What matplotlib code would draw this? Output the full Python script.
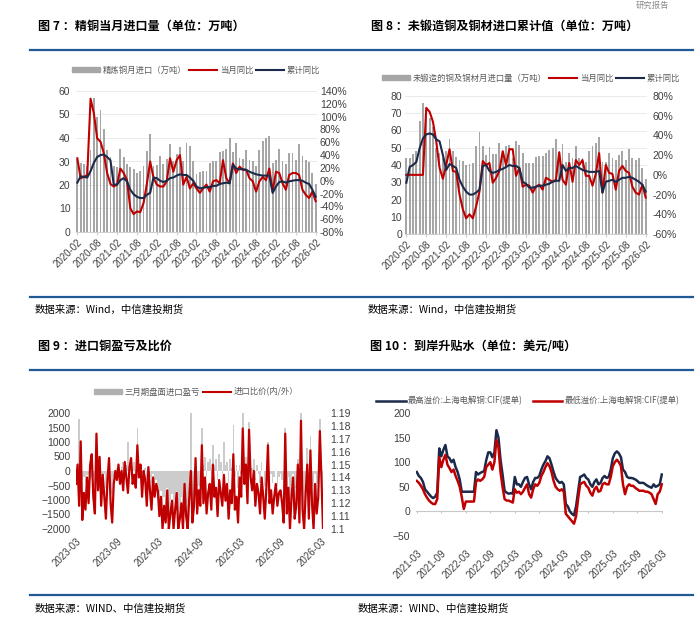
import matplotlib
matplotlib.use('Agg')
import matplotlib.pyplot as plt
from matplotlib.lines import Line2D
from matplotlib.patches import Patch
from matplotlib.ticker import FuncFormatter
import numpy as np

plt.rcParams['font.family'] = ['Liberation Sans', 'Noto Sans CJK SC']
CJK = ['Noto Sans CJK SC', 'DejaVu Sans']

RED = '#c00000'
NAVY = '#1b2a4a'
GRAY = '#a6a6a6'
BLUE = '#1f5a94'
TICK = '#404040'

# ---- 图7 data (monthly, 2020-02 .. 2026-02)
ticks7 = ['2020-02', '2020-08', '2021-02', '2021-08', '2022-02', '2022-08', '2023-02',
          '2023-08', '2024-02', '2024-08', '2025-02', '2025-08', '2026-02']
refined_imp = [31, 29.5, 28.8, 28, 35, 57, 49, 52, 44, 35, 32, 28, 27.5, 35.5, 32, 29, 27.5, 27,
               25, 26, 28, 34.5, 41.7, 28, 28.5, 32.3, 29, 31, 37.5, 30, 33, 36.3, 30, 38, 36.5,
               30, 24.5, 25.5, 26, 26, 29.5, 30, 30.2, 34, 34.5, 35.3, 40, 34, 38, 31.5, 31, 34.8,
               30.8, 30, 28, 34.9, 38.7, 40, 40.8, 29.5, 30.5, 35.3, 30, 29, 33.8, 33.5, 30.7,
               37.3, 32.3, 30.6, 29.9, 25, 20.3]
refined_yoy = [35, 4, 6, 9, 128, 105, 66, 61, 43, 12, -5, -9, -6, 19, 12, 1, -43, -52, -48, -49,
               -35, -5, 30, 5, -6, -9, -9, -1, 35, 14, 32, 40, -6, 6, -12, -4, -12, -19, -12, -6,
               -17, -1, 1, -4, 32, 4, -4, 27, 12, 22, 17, 17, 4, -1, -17, -1, 6, 1, 19, -17, 14,
               12, -4, -14, 9, 12, 12, 9, -14, -22, -27, -17, -32]
refined_cum = [-3, 7, 6, 5, 15, 28, 37, 40, 41, 37, 32, -6, -6, 1, 4, -1, -14, -21, -25, -27,
               -27, -22, -19, 5, 4, 0, -2, 0, 4, 5, 8, 10, 9, 9, 5, 0, -9, -12, -11, -10, -10,
               -8, -8, -5, -4, -3, -4, 25, 19, 18, 18, 17, 14, 12, 10, 9, 8, 8, 8, -19, -9, -2,
               -1, -3, -1, 0, 1, 1, 0, -3, -5, -14, -25]

# ---- 图8 data (monthly, 2020-02 .. 2026-02)
unwrought_imp = [44, 44, 46.5, 48, 65.7, 76, 72, 67, 62, 50, 47, 44, 48, 55.3, 48, 44.5, 43, 42.5,
                 40, 40.5, 41, 51, 59, 51, 46, 50.5, 46.5, 46.5, 52.5, 45, 51, 51.5, 44, 54, 51.5,
                 47, 41, 41, 41, 44.5, 45, 45, 47, 48.5, 50, 55, 46, 52, 42, 47, 44, 51, 44, 44,
                 42, 48, 51, 53, 56, 42, 42, 47, 44, 43, 46, 48, 43, 49, 44, 43, 44, 38, 32]
unwrought_yoy = [0, 0, 0, 0, 0, 0, 68, 64, 54, 34, 7, -4, 10, 26, 4, 3, -20, -35, -44, -40, -44,
                 -32, -17, 14, 10, 12, -8, -3, 4, 24, 10, 26, 26, -1, 7, -12, -10, -11, -18, -12,
                 -10, -15, -3, -5, -7, -5, 23, -5, -10, 12, -7, 15, 10, 15, -1, -1, -11, 1, 22,
                 -18, 10, 2, 1, -15, 4, 9, 4, 2, -12, -18, -20, -10, -23]
unwrought_cum = [-8, 8, 10, 13, 27, 37, 41, 42, 41, 36, 34, 20, 5, 11, 9, 7, -5, -12, -17, -20,
                 -20, -18, -15, 9, 10, 4, 2, 3, 5, 6, 8, 10, 9, 9, 7, -7, -9, -13, -13, -12, -11,
                 -11, -10, -9, -7, -6, -6, 10, 4, 7, 7, 9, 7, 5, 4, 3, 3, 3, 4, -18, -7, -6, -5,
                 -7, -5, -3, -3, -2, -3, -5, -7, -10, -17]

# ---- 图9 data (weekly, 2023-03 .. 2026-03)
ticks9 = ['2023-03', '2023-09', '2024-03', '2024-09', '2025-03', '2025-09', '2026-03']
profit9 = [-350, -500, 1800, -700, -300, -200, -400, -150, -100, -300, -250, -200, -500, 300, -250,
           -150, -400, -200, -100, -600, -200, -150, -300, -800, -200, -100,
           100, 200, -100, 150, 300, -50, 200, 1000, 250, 100, 150, 300, -100, 1500, 200, 100,
           -200, 50, 100, -300, 0, -200, -400, -100, -500, -300,
           -600, -1000, -700, -1500, -900, -1200, -600, -1700, -1000, -800, -1500, -1000, -700,
           -1800, -1300, -900, -1600, -500, -1100, -1700, -800, 2000, -1200, -900, -500, -1000,
           -500, -300, 1500, 200, 500, -200, 300, 400, -100, 900, 200, 400, -300, 600, 300, -100,
           1000, 200, 300, -400, 400, 100, 1600, -200, 200, -600,
           200, -100, 2000, 100, 500, -300, 1700, 300, 100, 400, -300, 200, -100, -400, 300, 0,
           -500, 100, 1000, -300, -100, -400, -200, 0, -500, -200,
           -100, -300, -800, 1500, -600, -200, -1000, -500, -100, -900, -600, 400, -1000, 2000,
           -700, -1300, -400, 800, -900, 1200, -500, -1200, -100, -800, -400, 1800, -200, -1500]
ratio9 = [1.135, 1.150, 1.118, 1.168, 1.107, 1.128, 1.115, 1.140, 1.120, 1.150, 1.158, 1.125, 1.112,
          1.174, 1.130, 1.156, 1.118, 1.142, 1.125, 1.108, 1.138, 1.155, 1.120, 1.105, 1.135, 1.145,
          1.138, 1.150, 1.135, 1.145, 1.130, 1.152, 1.140, 1.128, 1.148, 1.155, 1.135, 1.142, 1.132,
          1.165, 1.140, 1.150, 1.125, 1.145, 1.138, 1.118, 1.148, 1.130, 1.115, 1.140, 1.125, 1.135,
          1.130, 1.110, 1.125, 1.100, 1.118, 1.105, 1.130, 1.100, 1.112, 1.122, 1.100, 1.115, 1.128,
          1.100, 1.108, 1.120, 1.100, 1.135, 1.110, 1.100, 1.125, 1.145, 1.105, 1.118, 1.155, 1.112,
          1.130, 1.118, 1.165, 1.120, 1.140, 1.112, 1.128, 1.135, 1.115, 1.150, 1.125, 1.132, 1.110,
          1.138, 1.128, 1.118, 1.142, 1.122, 1.135, 1.108, 1.130, 1.120, 1.158, 1.115, 1.125, 1.105,
          1.140, 1.125, 1.178, 1.135, 1.150, 1.120, 1.177, 1.140, 1.130, 1.145, 1.118, 1.135, 1.128,
          1.112, 1.140, 1.125, 1.108, 1.132, 1.165, 1.120, 1.130, 1.112, 1.125, 1.135, 1.118, 1.128,
          1.130, 1.120, 1.105, 1.174, 1.112, 1.132, 1.100, 1.125, 1.140, 1.108, 1.118, 1.150, 1.105,
          1.184, 1.115, 1.100, 1.128, 1.150, 1.108, 1.161, 1.120, 1.100, 1.135, 1.112, 1.125, 1.176,
          1.140, 1.100]

# ---- 图10 data (half-monthly, 2021-03 .. 2026-03)
ticks10 = ['2021-03', '2021-09', '2022-03', '2022-09', '2023-03', '2023-09', '2024-03',
           '2024-09', '2025-03', '2025-09', '2026-03']
prem_high = [80, 72, 68, 60, 45, 40, 35, 30, 27, 30, 38, 128, 112, 125, 135, 112, 108, 100, 105, 90,
             80, 65, 40, 40, 40, 40, 40, 40, 40, 80, 75, 78, 80, 82, 104, 120, 120, 110, 120, 165,
             150, 105, 75, 42, 38, 36, 37, 36, 70, 55, 55, 50, 60, 68, 70, 55, 45, 60, 68, 68,
             72, 85, 95, 102, 112, 108, 95, 80, 68, 62, 58, 60, 55, 15, 10, 0, -5, -8, 10, 40,
             70, 72, 75, 68, 65, 55, 50, 60, 65, 55, 58, 68, 72, 68, 70, 85, 108, 118, 122, 118,
             110, 85, 80, 70, 68, 68, 67, 65, 62, 58, 58, 58, 55, 52, 50, 48, 55, 50, 52, 55, 75]
prem_low = [62, 58, 52, 45, 35, 28, 22, 18, 15, 15, 25, 110, 90, 105, 115, 95, 88, 80, 85, 72,
            62, 50, 30, 5, 20, 20, 20, 20, 20, 60, 65, 62, 65, 70, 90, 95, 100, 85, 100, 145,
            130, 80, 50, 25, 22, 22, 20, 18, 45, 38, 40, 35, 40, 48, 55, 35, 28, 45, 55, 52,
            58, 72, 80, 90, 98, 92, 80, 62, 50, 45, 42, 45, 40, -5, -10, -15, -20, -25, -10, 25,
            55, 58, 60, 52, 48, 38, 32, 45, 50, 40, 42, 55, 58, 55, 55, 70, 92, 100, 105, 100,
            92, 55, 35, 50, 55, 52, 52, 48, 45, 42, 42, 42, 40, 40, 38, 35, 25, 15, 35, 40, 55]

W, H = 700, 628
fig = plt.figure(figsize=(W / 100, H / 100), dpi=100)


def fx(x):
    return x / W


def fy(y):
    return 1 - y / H


def axes_px(x0, y0, x1, y1):
    return fig.add_axes([x0 / W, 1 - y1 / H, (x1 - x0) / W, (y1 - y0) / H])


def clean(ax):
    for s in ax.spines.values():
        s.set_visible(False)


# frame lines, titles and sources
for yy in (50, 297, 370, 595):
    fig.add_artist(Line2D([fx(30), fx(693)], [fy(yy), fy(yy)], color=BLUE, lw=1.6))

titles = [(38, 26, '图 7 ：精铜当月进口量（单位：万吨）'),
          (371, 26, '图 8 ：未锻造铜及铜材进口累计值（单位：万吨）'),
          (38, 346, '图 9 ：进口铜盈亏及比价'),
          (370, 346, '图 10 ：到岸升贴水（单位：美元/吨）')]
for x, y, t in titles:
    fig.text(fx(x), fy(y), t, fontsize=8.7, fontweight='bold', family=CJK, va='center')

sources = [(35, 310, '数据来源：Wind，中信建投期货'), (368, 310, '数据来源：Wind，中信建投期货'),
           (35, 609, '数据来源：WIND、中信建投期货'), (358, 609, '数据来源：WIND、中信建投期货')]
for x, y, t in sources:
    fig.text(fx(x), fy(y), t, fontsize=7.5, style='italic', family=CJK, va='center')

fig.text(fx(652), fy(5), '研究报告', fontsize=6, color='#8c8c8c', family=CJK, ha='center', va='center')

pct = FuncFormatter(lambda v, p: f'{v:.0f}%')

# ---------------- 图7
ax1 = axes_px(76, 91, 317, 232)
x7 = np.arange(len(refined_imp))
ax1.bar(x7, refined_imp, width=0.55, color=GRAY, zorder=2)
ax1.set_ylim(0, 60)
ax1.set_yticks(range(0, 61, 10))
ax1.set_xlim(-0.4, len(x7) - 0.6)
ax1.set_xticks(range(0, len(x7), 6))
ax1.set_xticklabels(ticks7, rotation=45, ha='right', rotation_mode='anchor')
ax1.grid(axis='y', color='#e6e6e6', lw=0.6)
ax1.set_axisbelow(True)
clean(ax1)
ax1.spines['bottom'].set_visible(True)
ax1.spines['bottom'].set_color('#d0d0d0')
ax1.tick_params(axis='y', length=0, labelsize=7.5, colors=TICK, pad=4)
ax1.tick_params(axis='x', length=2, color='#d0d0d0', labelsize=7, labelcolor=TICK, pad=2)
ax1r = ax1.twinx()
ax1r.plot(x7, refined_yoy, color=RED, lw=1.5, zorder=3)
ax1r.plot(x7, refined_cum, color=NAVY, lw=1.5, zorder=4)
ax1r.set_ylim(-80, 140)
ax1r.set_yticks(range(-80, 141, 20))
ax1r.yaxis.set_major_formatter(pct)
clean(ax1r)
ax1r.tick_params(axis='y', length=0, labelsize=7.5, colors=TICK, pad=2)

h1 = [Patch(color=GRAY), Line2D([], [], color=RED, lw=1.5), Line2D([], [], color=NAVY, lw=1.5)]
fig.legend(h1, ['精炼铜月进口（万吨）', '当月同比', '累计同比'], loc='center',
           bbox_to_anchor=(fx(196), fy(70)), ncol=3, frameon=False, handlelength=3.4,
           handleheight=0.6, columnspacing=0.3, handletextpad=0.3,
           prop={'family': CJK, 'size': 6}, labelcolor='#595959')

# ---------------- 图8
ax2 = axes_px(405, 96, 647, 234)
x8 = np.arange(len(unwrought_imp))
ax2.bar(x8, unwrought_imp, width=0.55, color=GRAY, zorder=2)
ax2.set_ylim(0, 80)
ax2.set_yticks(range(0, 81, 10))
ax2.set_xlim(-0.4, len(x8) - 0.6)
ax2.set_xticks(range(0, len(x8), 6))
ax2.set_xticklabels(ticks7, rotation=45, ha='right', rotation_mode='anchor')
ax2.grid(axis='y', color='#e6e6e6', lw=0.6)
ax2.set_axisbelow(True)
clean(ax2)
ax2.spines['bottom'].set_visible(True)
ax2.spines['bottom'].set_color('#d0d0d0')
ax2.tick_params(axis='y', length=0, labelsize=7.5, colors=TICK, pad=2)
ax2.tick_params(axis='x', length=2, color='#d0d0d0', labelsize=7, labelcolor=TICK, pad=2)
ax2r = ax2.twinx()
ax2r.plot(x8, unwrought_yoy, color=RED, lw=1.5, zorder=3)
ax2r.plot(x8, unwrought_cum, color=NAVY, lw=1.5, zorder=4)
ax2r.set_ylim(-60, 80)
ax2r.set_yticks(range(-60, 81, 20))
ax2r.yaxis.set_major_formatter(pct)
clean(ax2r)
ax2r.tick_params(axis='y', length=0, labelsize=7.5, colors=TICK, pad=4)

fig.legend(h1, ['未锻造的铜及铜材月进口量（万吨）', '当月同比', '累计同比'], loc='center',
           bbox_to_anchor=(fx(531), fy(78)), ncol=3, frameon=False, handlelength=3.4,
           handleheight=0.6, columnspacing=0.3, handletextpad=0.3,
           prop={'family': CJK, 'size': 6}, labelcolor='#595959')

# ---------------- 图9
ax3 = axes_px(76, 413, 323, 529)
x9 = np.arange(len(ratio9))
ax3.fill_between(x9, profit9, 0, step='mid', color='#cccccc', lw=0)
ax3.set_ylim(-2000, 2000)
ax3.set_yticks(range(-2000, 2001, 500))
ax3.set_xlim(0, len(x9) - 1)
ax3.set_xticks(range(0, len(x9), 26))
ax3.set_xticklabels(ticks9, rotation=45, ha='right', rotation_mode='anchor')
clean(ax3)
ax3.tick_params(axis='y', length=0, labelsize=7.5, colors=TICK, pad=4)
ax3.tick_params(axis='x', length=0, labelsize=7, colors=TICK, pad=5)
ax3r = ax3.twinx()
ax3r.plot(x9, ratio9, color=RED, lw=1.6)
ax3r.set_ylim(1.10, 1.19)
ax3r.set_yticks(np.round(np.arange(1.10, 1.1901, 0.01), 2))
ax3r.yaxis.set_major_formatter(FuncFormatter(lambda v, p: f'{round(v, 2):g}'))
clean(ax3r)
ax3r.tick_params(axis='y', length=0, labelsize=7.5, colors=TICK, pad=5)

h3 = [Patch(color='#b0b0b0'), Line2D([], [], color=RED, lw=1.5)]
fig.legend(h3, ['三月期盘面进口盈亏', '进口比价(内/外）'], loc='center',
           bbox_to_anchor=(fx(196), fy(392)), ncol=2, frameon=False, handlelength=3.4,
           handleheight=0.6, columnspacing=0.3, handletextpad=0.3,
           prop={'family': CJK, 'size': 6}, labelcolor='#595959')

# ---------------- 图10
ax4 = axes_px(416, 413, 663, 536)
x10 = np.arange(len(prem_high)) / 2
ax4.plot(x10, prem_high, color=NAVY, lw=1.8, zorder=3)
ax4.plot(x10, prem_low, color=RED, lw=1.8, zorder=4)
ax4.set_ylim(-50, 200)
ax4.set_yticks(range(-50, 201, 50))
ax4.set_xlim(-0.2, x10[-1] + 0.3)
tick_pos10 = np.arange(0, x10[-1] + 1, 6)
ax4.set_xticks(tick_pos10)
ax4.set_xticklabels(ticks10, rotation=45, ha='right', rotation_mode='anchor')
ax4.axhline(0, color='#c8c8c8', lw=0.8, zorder=1)
ax4.vlines(tick_pos10, -4, 0, color='#c8c8c8', lw=0.8, zorder=1)
clean(ax4)
ax4.tick_params(axis='y', length=0, labelsize=7.5, colors=TICK, pad=4)
ax4.tick_params(axis='x', length=0, labelsize=7, colors=TICK, pad=9)

h4 = [Line2D([], [], color=NAVY, lw=1.8), Line2D([], [], color=RED, lw=1.8)]
fig.legend(h4, ['最高溢价:上海电解铜:CIF(提单)', '最低溢价:上海电解铜:CIF(提单)'], loc='center',
           bbox_to_anchor=(fx(528), fy(401)), ncol=2, frameon=False, handlelength=3.5,
           columnspacing=1.2, handletextpad=0.3,
           prop={'family': CJK, 'size': 6}, labelcolor='#595959')

fig.savefig('out.png', dpi=100, facecolor='white')
